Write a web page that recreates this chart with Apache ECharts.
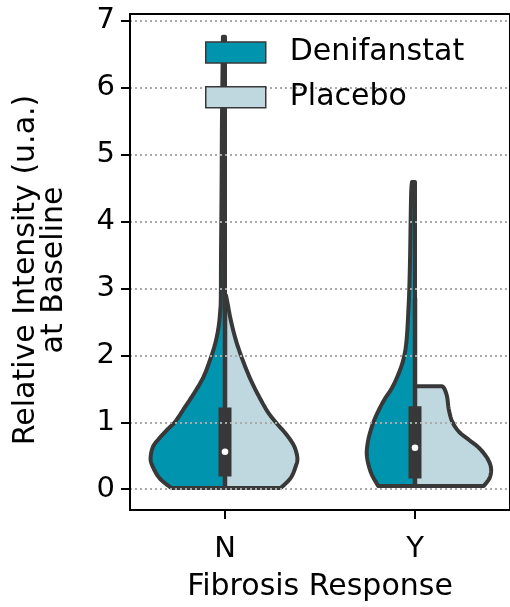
<!DOCTYPE html>
<html><head><meta charset="utf-8">
<script src="https://cdn.jsdelivr.net/npm/echarts@6.0.0/dist/echarts.min.js"></script>
<style>html,body{margin:0;padding:0;background:#fff}#c{width:510px;height:607px}</style>
</head><body><div id="c"></div>
<script>
const categories = ['N', 'Y'];
const hues = ['Denifanstat', 'Placebo'];
const yTicks = [0, 1, 2, 3, 4, 5, 6, 7];

// violin outlines: values along the y axis, half-widths in category-band units
const nDenValues = [0.02, 0.17, 0.37, 0.49, 0.64, 0.76, 0.89, 1.01, 1.23, 1.46, 1.68, 1.93, 2.17, 2.42, 2.67, 2.86, 3.5, 4.5, 5.5, 6.76];
const nDenWidths = [0.283, 0.346, 0.385, 0.391, 0.378, 0.346, 0.304, 0.262, 0.210, 0.157, 0.113, 0.079, 0.052, 0.034, 0.025, 0.022, 0.021, 0.018, 0.016, 0.011];
const nPlaValues = [0.02, 0.17, 0.34, 0.46, 0.61, 0.73, 0.86, 1.0, 1.16, 1.38, 1.63, 1.93, 2.22, 2.52, 2.77, 2.90];
const nPlaWidths = [0.294, 0.346, 0.372, 0.381, 0.369, 0.346, 0.311, 0.267, 0.224, 0.180, 0.136, 0.093, 0.058, 0.031, 0.014, 0.005];
const yDenValues = [0.05, 0.25, 0.49, 0.69, 0.89, 1.09, 1.33, 1.53, 1.78, 2.0, 2.27, 2.72, 3.0, 3.46, 4.0, 4.44, 4.59];
const yDenWidths = [0.194, 0.232, 0.253, 0.249, 0.232, 0.206, 0.163, 0.118, 0.079, 0.056, 0.043, 0.034, 0.030, 0.026, 0.023, 0.020, 0.016];
const yPlaValues = [0.05, 0.17, 0.32, 0.47, 0.62, 0.74, 0.86, 1.01, 1.19, 1.38, 1.50, 1.54];
const yPlaWidths = [0.362, 0.393, 0.400, 0.379, 0.336, 0.283, 0.231, 0.196, 0.178, 0.169, 0.155, 0.143];

// inner box (both hues combined)
const boxLow = [0.19, 0.16];
const boxHigh = [1.22, 1.24];
const medians = [0.56, 0.62];
const whiskerLow = [0.02, 0.05];
const whiskerHigh = [2.77, 2.86];

const profiles = [
  [{ v: nDenValues, w: nDenWidths }, { v: yDenValues, w: yDenWidths }],
  [{ v: nPlaValues, w: nPlaWidths }, { v: yPlaValues, w: yPlaWidths }]
];
const colors = ['#0094AE', '#BFD7DF'];
const edge = '#383838';
const FONT = 'DejaVu Sans';

function smooth(pts) {
  const out = [];
  const n = pts.length;
  for (let i = 0; i < n - 1; i++) {
    const p0 = pts[Math.max(i - 1, 0)], p1 = pts[i], p2 = pts[i + 1], p3 = pts[Math.min(i + 2, n - 1)];
    for (let s = 0; s < 10; s++) {
      const t = s / 10, t2 = t * t, t3 = t2 * t;
      const f = k => 0.5 * ((2 * p1[k]) + (-p0[k] + p2[k]) * t + (2 * p0[k] - 5 * p1[k] + 4 * p2[k] - p3[k]) * t2 + (-p0[k] + 3 * p1[k] - 3 * p2[k] + p3[k]) * t3);
      out.push([f(0), f(1)]);
    }
  }
  out.push(pts[n - 1]);
  return out;
}

function violinHalf(params, api) {
  const cat = api.value(0);
  const hue = api.value(2);
  const prof = profiles[hue][cat];
  const dir = hue === 0 ? -1 : 1;
  const cx = api.coord([cat, 0])[0];
  const band = api.size([1, 0])[0];
  const outer = prof.v.map((v, i) => [cx + dir * prof.w[i] * band, api.coord([cat, v])[1]]);
  const curve = smooth(outer);
  const pts = [[cx, outer[0][1]]].concat(curve, [[cx, outer[outer.length - 1][1]]]);
  return {
    type: 'polygon',
    shape: { points: pts },
    style: { fill: colors[hue], stroke: edge, lineWidth: 4, lineJoin: 'round' }
  };
}

function innerBox(params, api) {
  const cat = api.value(0);
  const cx = api.coord([cat, 0])[0];
  const yW0 = api.coord([cat, whiskerLow[cat]])[1];
  const yW1 = api.coord([cat, whiskerHigh[cat]])[1];
  const yB0 = api.coord([cat, boxLow[cat]])[1];
  const yB1 = api.coord([cat, boxHigh[cat]])[1];
  const yM = api.coord([cat, medians[cat]])[1];
  return {
    type: 'group',
    children: [
      { type: 'line', shape: { x1: cx, y1: yW0, x2: cx, y2: yW1 }, style: { stroke: edge, lineWidth: 4.5 } },
      { type: 'rect', shape: { x: cx - 6.5, y: yB1, width: 13, height: yB0 - yB1 }, style: { fill: edge } },
      { type: 'circle', shape: { cx: cx, cy: yM, r: 3.3 }, style: { fill: '#fff' } }
    ]
  };
}

const chart = echarts.init(document.getElementById('c'), null, { renderer: 'canvas' });
chart.setOption({
  animation: false,
  backgroundColor: '#fff',
  grid: { left: 130, top: 14, width: 381.4, height: 500.5, show: true, borderColor: '#000', borderWidth: 2, backgroundColor: 'transparent' },
  legend: {
    data: hues, orient: 'vertical', left: 205, top: 37.5, padding: 0, itemWidth: 60, itemHeight: 21, itemGap: 14.7,
    icon: 'rect', selectedMode: false,
    itemStyle: { borderColor: edge, borderWidth: 1.5 },
    textStyle: { fontSize: 30, fontFamily: FONT, color: '#000', padding: [0, 0, 0, 19] }
  },
  xAxis: {
    type: 'category', data: categories, boundaryGap: true, z: 3,
    axisLine: { show: true, onZero: false, lineStyle: { color: '#000', width: 2 } },
    axisTick: { show: true, alignWithLabel: true, length: 9, lineStyle: { color: '#000', width: 2 } },
    axisLabel: { fontSize: 29, fontFamily: FONT, color: '#000', margin: 25 },
    splitLine: { show: false },
    name: 'Fibrosis Response', nameLocation: 'middle', nameGap: 62,
    nameTextStyle: { fontSize: 30, fontFamily: FONT, color: '#000' }
  },
  yAxis: {
    type: 'value', min: -0.31, max: 7.10, z: 3,
    axisLine: { show: true, lineStyle: { color: '#000', width: 2 } },
    axisTick: { show: true, length: 9, customValues: yTicks, lineStyle: { color: '#000', width: 2 } },
    axisLabel: { customValues: yTicks, fontSize: 29, fontFamily: FONT, color: '#000', margin: 15 },
    splitLine: { show: true, lineStyle: { color: '#aaaaaa', width: 2, type: [2, 3] } },
    name: 'Relative Intensity (u.a.)\nat Baseline', nameLocation: 'middle', nameGap: 62,
    nameTextStyle: { fontSize: 30, fontFamily: FONT, color: '#000', lineHeight: 28, padding: [0, 16, 0, 0] }
  },
  series: [
    { name: hues[0], type: 'custom', renderItem: violinHalf, itemStyle: { color: colors[0] }, data: [[0, 0, 0], [1, 0, 0]], encode: { x: 0, y: 1 }, clip: false, z: 2 },
    { name: hues[1], type: 'custom', renderItem: violinHalf, itemStyle: { color: colors[1] }, data: [[0, 0, 1], [1, 0, 1]], encode: { x: 0, y: 1 }, clip: false, z: 2 },
    { name: 'box', type: 'custom', renderItem: innerBox, data: [[0, 0], [1, 0]], encode: { x: 0, y: 1 }, clip: false, z: 2 }
  ]
});
</script></body></html>
